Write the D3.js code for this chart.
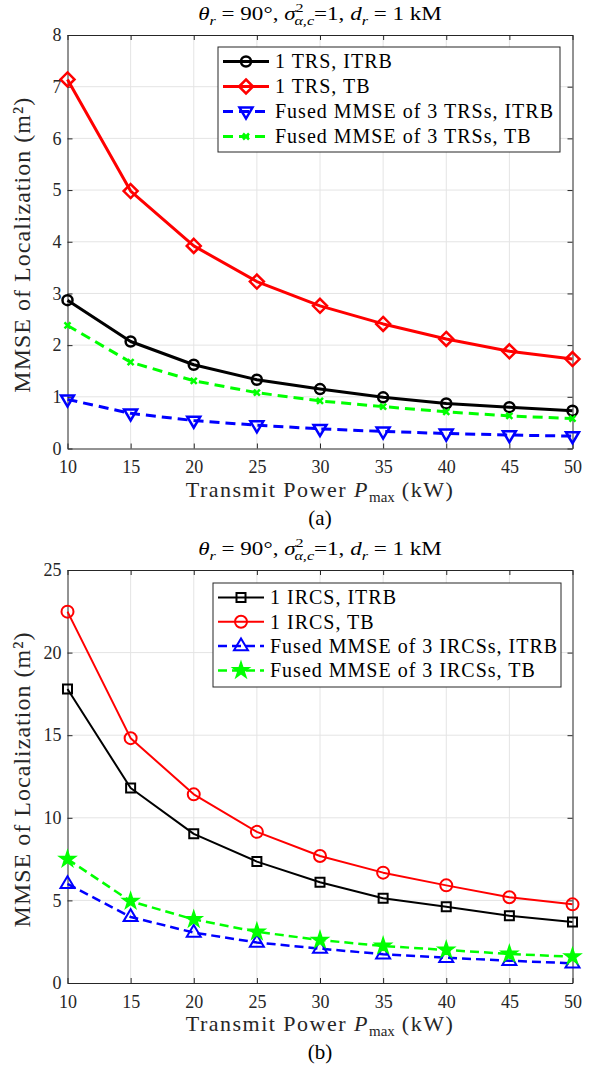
<!DOCTYPE html>
<html><head><meta charset="utf-8">
<script src="https://cdn.jsdelivr.net/npm/d3@7"></script>
<style>body{margin:0;background:#fff}svg{display:block}svg text{font-family:"Liberation Serif","Times New Roman",Times,serif}</style>
</head><body>
<svg id="c" width="598" height="1069"></svg>
<script>
// ---------- data ----------
const powerKW = [10, 15, 20, 25, 30, 35, 40, 45, 50];
const xTicks = [10, 15, 20, 25, 30, 35, 40, 45, 50];

// panel (a)
const trsItrb       = [2.87, 2.07, 1.62, 1.33, 1.15, 0.99, 0.87, 0.80, 0.73];
const trsTb        = [7.14, 4.98, 3.92, 3.23, 2.76, 2.41, 2.12, 1.88, 1.73];
const fusedTrsItrb = [0.95, 0.68, 0.54, 0.45, 0.38, 0.33, 0.29, 0.26, 0.24];
const fusedTrsTb   = [2.38, 1.67, 1.31, 1.08, 0.92, 0.81, 0.71, 0.63, 0.58];
const yTicksA = [0, 1, 2, 3, 4, 5, 6, 7, 8];
const legendA = ["1 TRS, ITRB", "1 TRS, TB", "Fused MMSE of 3 TRSs, ITRB", "Fused MMSE of 3 TRSs, TB"];

// panel (b)
const ircsItrb       = [17.8, 11.8, 9.03, 7.35, 6.10, 5.13, 4.62, 4.07, 3.69];
const ircsTb         = [22.48, 14.82, 11.42, 9.15, 7.69, 6.68, 5.91, 5.19, 4.76];
const fusedIrcsItrb  = [6.0, 4.0, 3.05, 2.45, 2.08, 1.74, 1.53, 1.35, 1.19];
const fusedIrcsTb    = [7.5, 4.95, 3.85, 3.1, 2.6, 2.24, 2.0, 1.76, 1.59];
const yTicksB = [0, 5, 10, 15, 20, 25];
const legendB = ["1 IRCS, ITRB", "1 IRCS, TB", "Fused MMSE of 3 IRCSs, ITRB", "Fused MMSE of 3 IRCSs, TB"];

const panelLabels = ["(a)", "(b)"];
const yLabelText = "MMSE of Localization (m²)";

// ---------- drawing ----------
const FONT = "Liberation Serif";
const AX = "#262626";
const svg = d3.select("#c");

function markerPath(type, s) {
  if (type === "circle") return d3.symbol(d3.symbolCircle, Math.PI * s * s)();
  if (type === "diamond") { const a = s; return `M0,${-a}L${a},0L0,${a}L${-a},0Z`; }
  if (type === "square") { const a = s; return `M${-a},${-a}H${a}V${a}H${-a}Z`; }
  if (type === "tridown") { const h = s; return `M${-h},${-h*0.6}L${h},${-h*0.6}L0,${h*1.1}Z`; }
  if (type === "triup") { const h = s; return `M${-h},${h*0.6}L${h},${h*0.6}L0,${-h*1.1}Z`; }
  if (type === "x") { const a = s; return `M${-a},${-a}L${a},${a}M${-a},${a}L${a},${-a}`; }
  if (type === "star") {
    let p = "";
    for (let i = 0; i < 10; i++) {
      const r = i % 2 === 0 ? s : s * 0.382;
      const ang = -Math.PI / 2 + i * Math.PI / 5;
      p += (i ? "L" : "M") + (r * Math.cos(ang)).toFixed(2) + "," + (r * Math.sin(ang)).toFixed(2);
    }
    return p + "Z";
  }
}

function drawMarker(g, cx, cy, st) {
  g.append("path").attr("d", markerPath(st.marker, st.msize))
    .attr("transform", `translate(${cx},${cy})`)
    .attr("fill", st.fill ? st.color : "none")
    .attr("stroke", st.color).attr("stroke-width", st.mw)
    .attr("stroke-linejoin", "miter");
}

// spread a text to a target width with letter-spacing (CM is wider than Times)
function spreadTo(sel, target) {
  const w = sel.node().getBBox().width;
  const n = sel.text().length;
  sel.attr("letter-spacing", ((target - w) / n).toFixed(2));
}

function panel(cfg) {
  const g = svg.append("g");
  const x = d3.scaleLinear().domain([10, 50]).range([67.5, 572.5]);
  const y = d3.scaleLinear().domain([0, cfg.yMax]).range([cfg.bottom, cfg.top]);
  const cx = (x(10) + x(50)) / 2;

  // grid
  g.append("g").selectAll("line").data(xTicks.slice(1, -1)).join("line")
    .attr("x1", d => x(d)).attr("x2", d => x(d)).attr("y1", cfg.top).attr("y2", cfg.bottom)
    .attr("stroke", "#e4e4e4").attr("stroke-width", 1);
  g.append("g").selectAll("line").data(cfg.yTicks.slice(1, -1)).join("line")
    .attr("y1", d => y(d)).attr("y2", d => y(d)).attr("x1", x(10)).attr("x2", x(50))
    .attr("stroke", "#e4e4e4").attr("stroke-width", 1);

  // axes
  const styleAxis = a => {
    a.attr("font-family", null);
    a.select(".domain").attr("stroke", AX).attr("stroke-width", 1);
    a.selectAll(".tick line").attr("stroke", AX).attr("stroke-width", 1);
    a.selectAll(".tick text").attr("fill", AX).style("font-family", FONT).attr("font-size", 18);
  };
  g.append("g").attr("transform", `translate(0,${cfg.bottom})`)
    .call(d3.axisBottom(x).tickValues(xTicks).tickSizeInner(-5).tickSizeOuter(0).tickPadding(12))
    .call(styleAxis);
  g.append("g").attr("transform", `translate(0,${cfg.top})`)
    .call(d3.axisTop(x).tickValues(xTicks).tickSizeInner(-5).tickSizeOuter(0).tickFormat(""))
    .call(styleAxis);
  g.append("g").attr("transform", `translate(${x(10)},0)`)
    .call(d3.axisLeft(y).tickValues(cfg.yTicks).tickSizeInner(-5).tickSizeOuter(0).tickPadding(6).tickFormat(d3.format("d")))
    .call(styleAxis);
  g.append("g").attr("transform", `translate(${x(50)},0)`)
    .call(d3.axisRight(y).tickValues(cfg.yTicks).tickSizeInner(-5).tickSizeOuter(0).tickFormat(""))
    .call(styleAxis);

  // series
  const line = d3.line().x((d, i) => x(powerKW[i])).y(d => y(d));
  cfg.series.forEach(st => {
    g.append("path").datum(st.values).attr("d", line)
      .attr("fill", "none").attr("stroke", st.color).attr("stroke-width", st.lw)
      .attr("stroke-dasharray", st.dash || null).attr("stroke-linejoin", "round");
  });
  cfg.series.forEach(st => {
    st.values.forEach((v, i) => drawMarker(g, x(powerKW[i]), y(v), st));
  });

  // title
  const tfs = 19;
  const tt = g.append("text").style("font-family", FONT).attr("font-size", tfs).attr("fill", "#000")
    .attr("text-anchor", "middle");
  const it = (t, o = {}) => {
    const s = tt.append("tspan").text(t);
    if (o.i) s.attr("font-style", "italic");
    if (o.sm) s.attr("font-size", tfs * 0.7);
    if (o.dy) s.attr("dy", o.dy * tfs);
    if (o.dx) s.attr("dx", o.dx * tfs);
    return s;
  };
  it("θ", { i: 1 }); it("r", { i: 1, sm: 1, dy: 0.25 }); it(" = 90°, ", { dy: -0.25 });
  it("σ", { i: 1 }); it("2", { sm: 1, dy: -0.42 }); it("α,c", { i: 1, sm: 1, dy: 0.67, dx: -0.4 });
  it("=1, ", { dy: -0.25 }); it("d", { i: 1 }); it("r", { i: 1, sm: 1, dy: 0.25 }); it(" = 1 kM", { dy: -0.25 });
  const tw = tt.node().getBBox().width;
  tt.attr("transform", `translate(${cx},${cfg.top - 15}) scale(${244 / tw},1)`);

  // x label
  const xl = g.append("text").style("font-family", FONT).attr("font-size", 22).attr("fill", "#262626")
    .attr("text-anchor", "middle");
  xl.append("tspan").text("Transmit Power ");
  xl.append("tspan").text("P").attr("font-style", "italic");
  xl.append("tspan").text("max").attr("font-size", 15).attr("dy", 5).attr("letter-spacing", 0);
  xl.append("tspan").text(" (kW)").attr("dy", -5);
  spreadTo(xl, 273);
  xl.attr("transform", `translate(${cx},${cfg.bottom + 48})`);

  // y label
  const yl = g.append("text").style("font-family", FONT).attr("font-size", 24).attr("fill", "#262626")
    .attr("text-anchor", "middle").text(yLabelText);
  spreadTo(yl, 296);
  yl.attr("transform", `translate(30,${(cfg.top + cfg.bottom) / 2 + 3}) rotate(-90)`);

  // panel label
  g.append("text").style("font-family", FONT).attr("font-size", 21).attr("fill", "#000")
    .attr("text-anchor", "middle").attr("x", cx).attr("y", cfg.bottom + 76)
    .text(cfg.label);

  // legend
  const L = cfg.legend;
  const lg = g.append("g");
  lg.append("rect").attr("x", L.x).attr("y", L.y).attr("width", L.w).attr("height", L.h)
    .attr("fill", "#fff").attr("stroke", AX).attr("stroke-width", 1);
  cfg.series.forEach((st, i) => {
    const ry = L.y + 14.5 + i * L.dy;
    const lx1 = L.x + 5, lx2 = L.x + 51, mx = L.x + 28;
    lg.append("line").attr("x1", lx1).attr("x2", lx2).attr("y1", ry).attr("y2", ry)
      .attr("stroke", st.color).attr("stroke-width", st.lw).attr("stroke-dasharray", st.dash || null);
    drawMarker(lg, mx, ry, st);
    lg.append("text").style("font-family", FONT).attr("font-size", 20).attr("fill", "#000")
      .attr("letter-spacing", 1)
      .attr("x", L.x + 57).attr("y", ry + 6.8)
      .text(cfg.names[i]);
  });
}

panel({
  top: 35, bottom: 448.5, yMax: 8, yTicks: yTicksA, label: panelLabels[0], names: legendA,
  legend: { x: 218, y: 47, w: 342, h: 105, dy: 25 },
  series: [
    { values: trsItrb, color: "#000000", lw: 3, marker: "circle", msize: 5, mw: 2.5 },
    { values: trsTb, color: "#ff0000", lw: 3, marker: "diamond", msize: 7, mw: 2.5 },
    { values: fusedTrsItrb, color: "#0000ff", lw: 3, dash: "10,6", marker: "tridown", msize: 6.5, mw: 2.5 },
    { values: fusedTrsTb, color: "#00ff00", lw: 3, dash: "10,6", marker: "x", msize: 3, mw: 2.5 }
  ]
});

panel({
  top: 570, bottom: 983, yMax: 25, yTicks: yTicksB, label: panelLabels[1], names: legendB,
  legend: { x: 213, y: 583, w: 348, h: 104, dy: 24.3 },
  series: [
    { values: ircsItrb, color: "#000000", lw: 2, marker: "square", msize: 4.5, mw: 2 },
    { values: ircsTb, color: "#ff0000", lw: 2, marker: "circle", msize: 6, mw: 2 },
    { values: fusedIrcsItrb, color: "#0000ff", lw: 2.5, dash: "9,5", marker: "triup", msize: 7, mw: 2 },
    { values: fusedIrcsTb, color: "#00ff00", lw: 2.5, dash: "9,5", marker: "star", msize: 8.5, mw: 1.5, fill: true }
  ]
});
</script>
</body></html>
